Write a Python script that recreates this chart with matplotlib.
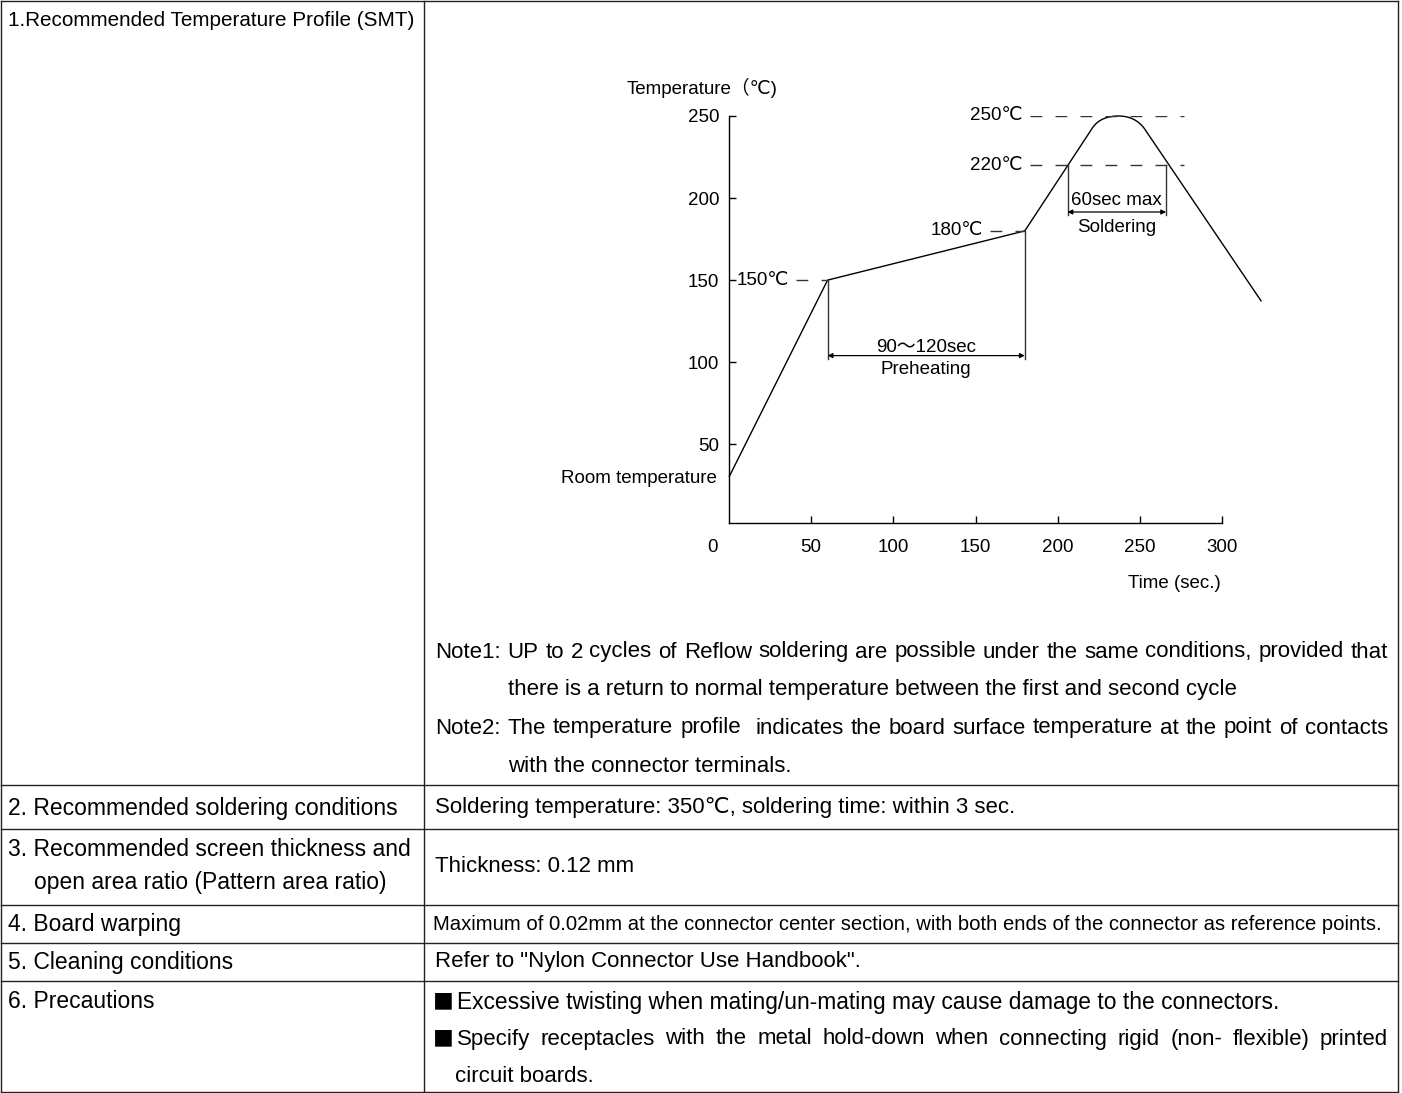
#!/usr/bin/env python3
"""
Reflow soldering spec sheet: recommended SMT temperature profile plus the
conditions table underneath. Output: out.png (1402 x 1093)
"""

import matplotlib
matplotlib.use("Agg")
import matplotlib.pyplot as plt
from matplotlib.path import Path
from matplotlib.patches import PathPatch
from matplotlib.lines import Line2D
from matplotlib import font_manager

FAMILY = ["Liberation Sans", "DejaVu Sans", "Noto Sans CJK JP"]
plt.rcParams["font.family"] = FAMILY

#  Profile data (time [s], temperature [C]); the peak is two cubic Beziers
PROFILE_T = [0, 60, 180, 221, 224.6, 230.4, 237, 243.6, 249.3, 253, 324]
PROFILE_C = [30, 150, 180, 242.5, 248, 250, 250, 250, 247.4, 242, 137]
PROFILE_CODES = [Path.MOVETO, Path.LINETO, Path.LINETO, Path.LINETO,
                 Path.CURVE4, Path.CURVE4, Path.CURVE4,
                 Path.CURVE4, Path.CURVE4, Path.CURVE4, Path.LINETO]

# dashed reference levels: temperature, dash start / end time
REF_TEMPS = [150, 180, 220, 250]
REF_START = [41, 159, 183, 183]
REF_END   = [60, 180, 277, 277]

# time windows
PRE_START, PRE_END, PRE_LEVEL = 60, 180, 104
SOL_START, SOL_END, SOL_LEVEL = 206, 266, 191.5
PRE_LABEL = ["90～120sec", "Preheating"]
SOL_LABEL = ["60sec max", "Soldering"]

X_TICKS = [50, 100, 150, 200, 250, 300]
Y_TICKS = [50, 100, 150, 200, 250]
ROOM_TEMP = 30

#  Table content
ROW_LABELS = [
    "2. Recommended soldering conditions",
    "3. Recommended screen thickness and",
    "4. Board warping",
    "5. Cleaning conditions",
    "6. Precautions",
]
NOTE1 = ["Note1: UP to 2 cycles of Reflow soldering are possible under the same conditions, provided that",
         "there is a return to normal temperature between the first and second cycle"]
NOTE2 = ["Note2: The temperature profile  indicates the board surface temperature at the point of contacts",
         "with the connector terminals."]
SOLDER_COND = "Soldering temperature: 350℃, soldering time: within 3 sec."
SCREEN = "Thickness: 0.12 mm"
WARPING = ("Maximum of 0.02mm at the connector center section, with both ends "
           "of the connector as reference points.")
CLEANING = 'Refer to "Nylon Connector Use Handbook".'
PRECAUTIONS = ["Excessive twisting when mating/un-mating may cause damage to the connectors.",
               "Specify receptacles with the metal hold-down when connecting rigid (non- flexible) printed",
               "circuit boards."]

W, H = 1402, 1093
fig = plt.figure(figsize=(W / 100, H / 100), dpi=100)
fig.patch.set_facecolor("white")
renderer = fig.canvas.get_renderer()


def fx(x):
    return x / W


def fy(y):
    return 1 - y / H


def put(x, y, s, size=16, **kw):
    return fig.text(fx(x), fy(y), s, fontsize=size, va="center", **kw)


def justify(x0, x1, y, s, size=16):
    words = s.split(" ")
    widths = []
    for w in words:
        t = put(0, 0, w, size)
        widths.append(t.get_window_extent(renderer).width if w else 0)
        t.remove()
    gap = (x1 - x0 - sum(widths)) / (len(words) - 1)
    x = x0
    for w, wd in zip(words, widths):
        if w:
            put(x, y, w, size)
        x += wd + gap


def fit(x0, x1, y, s, family):
    t = put(x0, y, s, 16, family=family)
    wd = t.get_window_extent(renderer).width
    t.set_fontsize(16 * (x1 - x0) / wd)


def bullet(y):
    put(433, y, "■", 15, family=["Noto Sans CJK JP", "DejaVu Sans"])


#  Table grid
LINE_KW = dict(color="#222222", lw=1.0)
for y in [1, 785, 829, 905, 943, 981, 1092]:
    fig.add_artist(Line2D([fx(1), fx(1398)], [fy(y), fy(y)], **LINE_KW))
for x in [1, 424, 1398]:
    fig.add_artist(Line2D([fx(x), fx(x)], [fy(1), fy(1092)], **LINE_KW))

LEFT = 16.5
put(8, 21, "1.Recommended Temperature Profile (SMT)", 14.9)
put(8, 808, ROW_LABELS[0], LEFT)
put(8, 849, ROW_LABELS[1], LEFT)
put(34, 883, "open area ratio (Pattern area ratio)", LEFT)
put(8, 924, ROW_LABELS[2], LEFT)
put(8, 962, ROW_LABELS[3], LEFT)
put(8, 1002, ROW_LABELS[4], LEFT)

justify(435, 1388, 652, NOTE1[0])
put(508, 690, NOTE1[1])
justify(435, 1388, 728, NOTE2[0])
put(508, 766, NOTE2[1])
put(435, 808, SOLDER_COND)
put(435, 866, SCREEN)
try:
    font_manager.findfont("Liberation Sans Narrow", fallback_to_default=False)
    narrow = ["Liberation Sans Narrow", "DejaVu Sans"]
except ValueError:
    narrow = FAMILY
fit(433, 1380, 924, WARPING, narrow)
put(435, 962, CLEANING)
bullet(1002)
put(457, 1002, PRECAUTIONS[0], 16.4)
bullet(1039)
justify(457, 1388, 1039, PRECAUTIONS[1])
put(455, 1076, PRECAUTIONS[2])

#  Profile chart
ax = fig.add_axes([fx(729), fy(523), (1222 - 729) / W, (523 - 116) / H])
ax.set_xlim(0, 300)
ax.set_ylim(2, 250)
ax.patch.set_alpha(0)
ax.spines[["top", "right"]].set_visible(False)
for sp in ("left", "bottom"):
    ax.spines[sp].set_linewidth(1.0)
ax.set_xticks(X_TICKS)
ax.set_yticks(Y_TICKS)
ax.tick_params(direction="in", length=5, width=1, labelsize=13.5)
ax.tick_params(axis="x", pad=11.5)
ax.tick_params(axis="y", pad=7)
ax.annotate("0", xy=(0, 2), xytext=(-16 * 0.72, -24 * 0.72),
            textcoords="offset points", ha="center", va="center", fontsize=13.5)

ax.add_patch(PathPatch(Path(list(zip(PROFILE_T, PROFILE_C)), PROFILE_CODES),
                       fill=False, color="black", lw=1.0, clip_on=False))

for temp, t0, t1 in zip(REF_TEMPS, REF_START, REF_END):
    ax.plot([t0, t1], [temp, temp], color="#333333", lw=1.0, dashes=(8.5, 9.5))
    ax.annotate(f"{temp}℃", xy=(t0, temp), xytext=(-5, 0),
                textcoords="offset points", ha="right", va="center", fontsize=13.5)

ARROW = dict(arrowstyle="<|-|>", color="black", lw=0.9, shrinkA=0, shrinkB=0,
             mutation_scale=7)
# preheating window
ax.plot([PRE_START, PRE_START], [150, PRE_LEVEL - 2], color="#333333", lw=1.0)
ax.plot([PRE_END, PRE_END], [180, PRE_LEVEL - 2], color="#333333", lw=1.0)
ax.annotate("", xy=(PRE_START, PRE_LEVEL), xytext=(PRE_END, PRE_LEVEL), arrowprops=ARROW)
mid = (PRE_START + PRE_END) / 2
ax.annotate(PRE_LABEL[0], xy=(mid, PRE_LEVEL), xytext=(0, 6), textcoords="offset points",
            ha="center", va="center", fontsize=13.5)
ax.annotate(PRE_LABEL[1], xy=(mid, PRE_LEVEL), xytext=(0, -10), textcoords="offset points",
            ha="center", va="center", fontsize=13.5)
# soldering window
ax.plot([SOL_START, SOL_START], [220, SOL_LEVEL - 2], color="#333333", lw=1.0)
ax.plot([SOL_END, SOL_END], [220, SOL_LEVEL - 2], color="#333333", lw=1.0)
ax.annotate("", xy=(SOL_START, SOL_LEVEL), xytext=(SOL_END, SOL_LEVEL), arrowprops=ARROW)
mid = (SOL_START + SOL_END) / 2
ax.annotate(SOL_LABEL[0], xy=(mid, SOL_LEVEL), xytext=(0, 8.5), textcoords="offset points",
            ha="center", va="center", fontsize=13.5)
ax.annotate(SOL_LABEL[1], xy=(mid, SOL_LEVEL), xytext=(0, -11), textcoords="offset points",
            ha="center", va="center", fontsize=13.5)

ax.annotate("Room temperature", xy=(0, ROOM_TEMP), xytext=(-9, -1),
            textcoords="offset points", ha="right", va="center", fontsize=13.5)
put(627, 88, "Temperature（℃)", 13.5)
put(1221, 583, "Time (sec.)", 13.5, ha="right")

fig.savefig("out.png", dpi=100, facecolor="white")
plt.close(fig)
print("Saved out.png")
